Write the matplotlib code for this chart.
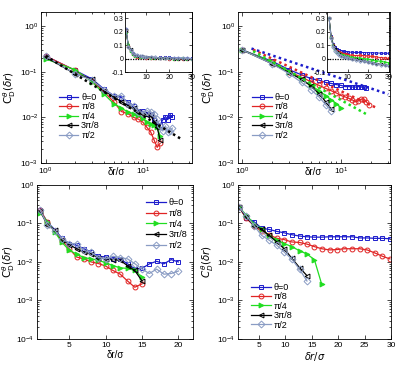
import matplotlib
matplotlib.use('Agg')
import matplotlib.pyplot as plt

plt.rcParams['font.family'] = ['Liberation Sans', 'DejaVu Sans']
plt.rcParams['mathtext.fontset'] = 'dejavusans'

# ---- data: left column (same run, log-log on top, semilog below) ----
x_a_long = [1, 2, 3, 4, 5, 6, 7, 8, 9, 10, 11, 12, 13, 14, 15, 16, 17, 18, 19, 20]
x_a_short = [1, 2, 3, 4, 5, 6, 7, 8, 9, 10, 11, 12, 13, 14, 15]
blue_a = [0.22, 0.107, 0.069, 0.041, 0.030, 0.027, 0.022, 0.018, 0.014, 0.0135,
          0.012, 0.012, 0.0089, 0.0066, 0.0068, 0.0089, 0.0104, 0.0089, 0.0115, 0.010]
red_a = [0.22, 0.107, 0.062, 0.036, 0.022, 0.0134, 0.012, 0.010, 0.0091, 0.0078,
         0.006, 0.0048, 0.0032, 0.0022, 0.0027]
green_a = [0.19, 0.11, 0.06, 0.032, 0.02, 0.016, 0.013, 0.012, 0.011, 0.0095,
           0.008, 0.007, 0.0068, 0.006, 0.004]
black_a = [0.21, 0.09, 0.068, 0.038, 0.028, 0.022, 0.018, 0.016, 0.013, 0.012,
           0.0115, 0.011, 0.008, 0.006, 0.0032]
diam_a = [0.22, 0.09, 0.065, 0.04, 0.03, 0.03, 0.02, 0.018, 0.013, 0.012,
          0.014, 0.013, 0.012, 0.009, 0.0065, 0.005, 0.0065, 0.0048, 0.005, 0.0058]
fit_a_x = [1, 25.6]
fit_a_y = [0.22, 0.0032]

# ---- data: top-right (log-log) ----
x_b = [1, 2, 3, 4, 5, 6, 7, 8, 9, 10, 11, 12, 13, 14, 15, 16, 17, 18, 19]
blue_b = [0.3, 0.17, 0.11, 0.085, 0.07, 0.065, 0.058, 0.055, 0.052, 0.05,
          0.047, 0.047, 0.046, 0.046, 0.047, 0.046, 0.045, 0.043]
red_b = [0.3, 0.16, 0.1, 0.075, 0.06, 0.05, 0.043, 0.038, 0.034, 0.03,
         0.028, 0.026, 0.024, 0.022, 0.023, 0.025, 0.025, 0.022, 0.019]
green_b = [0.3, 0.16, 0.1, 0.068, 0.05, 0.038, 0.03, 0.024, 0.02, 0.016]
black_b = [0.3, 0.15, 0.095, 0.068, 0.048, 0.033, 0.022, 0.015]
diam_b = [0.3, 0.15, 0.09, 0.058, 0.04, 0.028, 0.019, 0.014]
fit_blue_x = [1.25, 30]
fit_blue_y = [0.32, 0.032]
fit_red_x = [1.3, 23]
fit_red_y = [0.30, 0.016]
fit_green_x = [1.3, 19]
fit_green_y = [0.28, 0.011]

# ---- data: bottom-right (semilog) ----
x_d = [1.2, 2.6, 4.1, 5.5, 6.9, 8.4, 9.8, 11.2, 12.7, 14.1, 15.5, 16.9, 18.4,
       19.8, 21.2, 22.7, 24.1, 25.5, 27.0, 28.4, 29.8]
blue_d = [0.27, 0.14, 0.11, 0.075, 0.07, 0.062, 0.057, 0.051, 0.047, 0.045, 0.044,
          0.044, 0.045, 0.045, 0.045, 0.045, 0.042, 0.042, 0.041, 0.041, 0.040]
red_d = [0.27, 0.135, 0.087, 0.062, 0.051, 0.041, 0.038, 0.033, 0.032, 0.029, 0.025,
         0.022, 0.0205, 0.021, 0.022, 0.022, 0.022, 0.0205, 0.017, 0.014, 0.012]
green_d = [0.27, 0.165, 0.097, 0.072, 0.048, 0.037, 0.030, 0.025, 0.0195, 0.016,
           0.0115, 0.0026]
black_d = [0.27, 0.145, 0.087, 0.072, 0.049, 0.033, 0.022, 0.0126, 0.0071, 0.0044]
diam_d = [0.27, 0.158, 0.087, 0.049, 0.037, 0.027, 0.018, 0.012, 0.0064, 0.0032]

# ---- inset data (linear) ----
x_in = [1, 2, 3, 4, 5, 6, 7, 8, 9, 10, 12, 14, 16, 18, 20, 22, 24, 26, 28, 30]
in1_blue = [0.22, 0.10, 0.065, 0.04, 0.03, 0.025, 0.02, 0.016, 0.013, 0.012, 0.011,
            0.008, 0.009, 0.009, 0.009, 0.006, 0.005, 0.004, 0.003, 0.002]
in1_red = [0.21, 0.095, 0.06, 0.035, 0.022, 0.013, 0.012, 0.01, 0.009, 0.008, 0.005,
           0.002, 0.003, 0.002, 0.001, 0.0, -0.002, -0.003, -0.002, -0.004]
in1_green = [0.19, 0.11, 0.06, 0.032, 0.02, 0.016, 0.013, 0.012, 0.011, 0.0095, 0.007,
             0.006, 0.004, 0.003, 0.002, 0.001, 0.0, 0.002, 0.001, -0.001]
in1_black = [0.21, 0.09, 0.068, 0.038, 0.028, 0.022, 0.018, 0.016, 0.013, 0.012, 0.011,
             0.006, 0.004, 0.004, 0.002, 0.001, 0.0, -0.001, -0.002, -0.003]
in1_diam = [0.22, 0.09, 0.065, 0.04, 0.03, 0.03, 0.02, 0.018, 0.013, 0.012, 0.013,
            0.009, 0.005, 0.005, 0.006, 0.004, 0.003, 0.003, 0.002, 0.001]
in2_blue = [0.3, 0.17, 0.11, 0.085, 0.07, 0.065, 0.058, 0.055, 0.052, 0.05, 0.047,
            0.046, 0.046, 0.045, 0.044, 0.043, 0.042, 0.041, 0.040, 0.040]
in2_red = [0.3, 0.16, 0.1, 0.075, 0.06, 0.05, 0.042, 0.037, 0.033, 0.03, 0.025,
           0.022, 0.025, 0.022, 0.02, 0.016, 0.012, 0.008, 0.005, 0.002]
in2_green = [0.3, 0.16, 0.1, 0.07, 0.05, 0.04, 0.032, 0.026, 0.022, 0.016, 0.012,
             0.008, 0.004, 0.001, -0.004, -0.01, -0.015, -0.02, -0.025, -0.03]
in2_black = [0.3, 0.15, 0.095, 0.07, 0.05, 0.035, 0.022, 0.015, 0.01, 0.006, 0.0,
             -0.006, -0.012, -0.018, -0.024, -0.03, -0.036, -0.042, -0.047, -0.052]
in2_diam = [0.3, 0.15, 0.09, 0.06, 0.042, 0.03, 0.02, 0.014, 0.009, 0.005, -0.002,
            -0.008, -0.014, -0.02, -0.026, -0.032, -0.038, -0.044, -0.048, -0.052]

labels = ['θ=0', 'π/8', 'π/4', '3π/8', 'π/2']
colors = ['#1c1ccc', '#e02424', '#20dd20', 'black', '#8a9cc4']
markers = ['s', 'o', '>', '<', 'D']
fills = ['none', 'none', '#20dd20', 'none', 'none']


def style_axes(ax, size=6):
    ax.tick_params(which='both', direction='in', top=True, right=True,
                   labelsize=size, width=0.5, pad=2)
    ax.tick_params(which='major', length=3)
    ax.tick_params(which='minor', length=1.5)
    for sp in ax.spines.values():
        sp.set_linewidth(0.6)


def plot_series(ax, xs, ys, ms=3.5, lw=0.9):
    for x, y, lab, c, m, f in zip(xs, ys, labels, colors, markers, fills):
        ax.plot(x[:len(y)], y, color=c, marker=m, mfc=f, mec=c, ms=ms,
                mew=0.7, lw=lw, label=lab)


fig = plt.figure(figsize=(4.15, 3.68), dpi=100)

ylab = r'$\mathrm{C}_\mathrm{D}^{\theta}(\delta r)$'

# top-left
ax1 = fig.add_axes([0.099, 0.557, 0.364, 0.41])
plot_series(ax1, [x_a_long, x_a_short, x_a_short, x_a_short, x_a_long],
            [blue_a, red_a, green_a, black_a, diam_a])
ax1.plot(fit_a_x, fit_a_y, color='black', lw=1.8, ls=(0, (1, 1.3)))
ax1.set_xscale('log')
ax1.set_yscale('log')
ax1.set_xlim(0.9, 32)
ax1.set_ylim(1e-3, 2)
style_axes(ax1)
ax1.set_xlabel('δr/σ', fontsize=7)
ax1.xaxis.set_label_coords(0.5, -0.025)
ax1.set_ylabel(ylab, fontsize=7.5)
ax1.yaxis.set_label_coords(-0.15, 0.5)
ax1.legend(loc='upper left', bbox_to_anchor=(0.08, 0.5), fontsize=6.5,
           frameon=False, labelspacing=0.05, handlelength=2.2,
           handletextpad=0.3, borderpad=0.1)

# top-right
ax2 = fig.add_axes([0.573, 0.557, 0.366, 0.41])
plot_series(ax2, [x_b] * 5, [blue_b, red_b, green_b, black_b, diam_b])
ax2.plot(fit_blue_x, fit_blue_y, color='#1c1ccc', lw=1.8, ls=(0, (1, 1.3)))
ax2.plot(fit_red_x, fit_red_y, color='#e02424', lw=1.8, ls=(0, (1, 1.3)))
ax2.plot(fit_green_x, fit_green_y, color='#20dd20', lw=1.8, ls=(0, (1, 1.3)))
ax2.set_xscale('log')
ax2.set_yscale('log')
ax2.set_xlim(0.91, 31)
ax2.set_ylim(1e-3, 2)
style_axes(ax2)
ax2.set_xlabel('δr/σ', fontsize=7)
ax2.xaxis.set_label_coords(0.5, -0.025)
ax2.set_ylabel(ylab, fontsize=7.5)
ax2.yaxis.set_label_coords(-0.14, 0.5)
ax2.legend(loc='upper left', bbox_to_anchor=(0.06, 0.5), fontsize=6.5,
           frameon=False, labelspacing=0.05, handlelength=2.2,
           handletextpad=0.3, borderpad=0.1)

# bottom-left
ax3 = fig.add_axes([0.089, 0.079, 0.376, 0.4185])
plot_series(ax3, [x_a_long, x_a_short, x_a_short, x_a_short, x_a_long],
            [blue_a, red_a, green_a, black_a, diam_a])
ax3.set_yscale('log')
ax3.set_xlim(0.55, 22)
ax3.set_ylim(1e-4, 1)
ax3.set_xticks([5, 10, 15, 20])
style_axes(ax3)
ax3.set_xlabel('δr/σ', fontsize=7)
ax3.xaxis.set_label_coords(0.5, -0.07)
ax3.set_ylabel(ylab, fontsize=7.5)
ax3.yaxis.set_label_coords(-0.125, 0.5)
ax3.legend(loc='upper right', bbox_to_anchor=(1.0, 0.95), fontsize=6.5,
           frameon=False, labelspacing=0.2, handlelength=2.2,
           handletextpad=0.3, borderpad=0.1)

# bottom-right
ax4 = fig.add_axes([0.573, 0.079, 0.369, 0.4185])
plot_series(ax4, [x_d] * 5, [blue_d, red_d, green_d, black_d, diam_d])
ax4.set_yscale('log')
ax4.set_xlim(1, 30)
ax4.set_ylim(1e-4, 1)
ax4.set_xticks([5, 10, 15, 20, 25, 30])
style_axes(ax4)
ax4.set_xlabel(r'$\delta r/\sigma$', fontsize=7)
ax4.xaxis.set_label_coords(0.5, -0.07)
ax4.set_ylabel(r'$C_D^{\theta}(\delta r)$', fontsize=7.5)
ax4.yaxis.set_label_coords(-0.14, 0.5)
ax4.legend(loc='upper left', bbox_to_anchor=(0.05, 0.4), fontsize=6.5,
           frameon=False, labelspacing=0.05, handlelength=2.2,
           handletextpad=0.3, borderpad=0.1)

# insets
for rect, ys, xl in [([0.301, 0.804, 0.161, 0.163],
                      [in1_blue, in1_red, in1_green, in1_black, in1_diam], (0.5, 30)),
                     ([0.788, 0.804, 0.149, 0.163],
                      [in2_blue, in2_red, in2_green, in2_black, in2_diam], (0, 30))]:
    axi = fig.add_axes(rect)
    axi.plot(xl, [0, 0], color='black', lw=0.9, ls=(0, (1, 1)), zorder=1)
    plot_series(axi, [x_in] * 5, ys, ms=1.8, lw=0.7)
    axi.set_xlim(*xl)
    axi.set_ylim(-0.1, 0.345)
    axi.set_xticks([10, 20, 30])
    axi.set_yticks([-0.1, 0, 0.1, 0.2, 0.3])
    axi.set_yticklabels(['-0.1', '0', '0.1', '0.2', '0.3'])
    style_axes(axi, size=5)
    axi.tick_params(which='major', length=2, pad=1)

fig.savefig('out.png', dpi=100)
